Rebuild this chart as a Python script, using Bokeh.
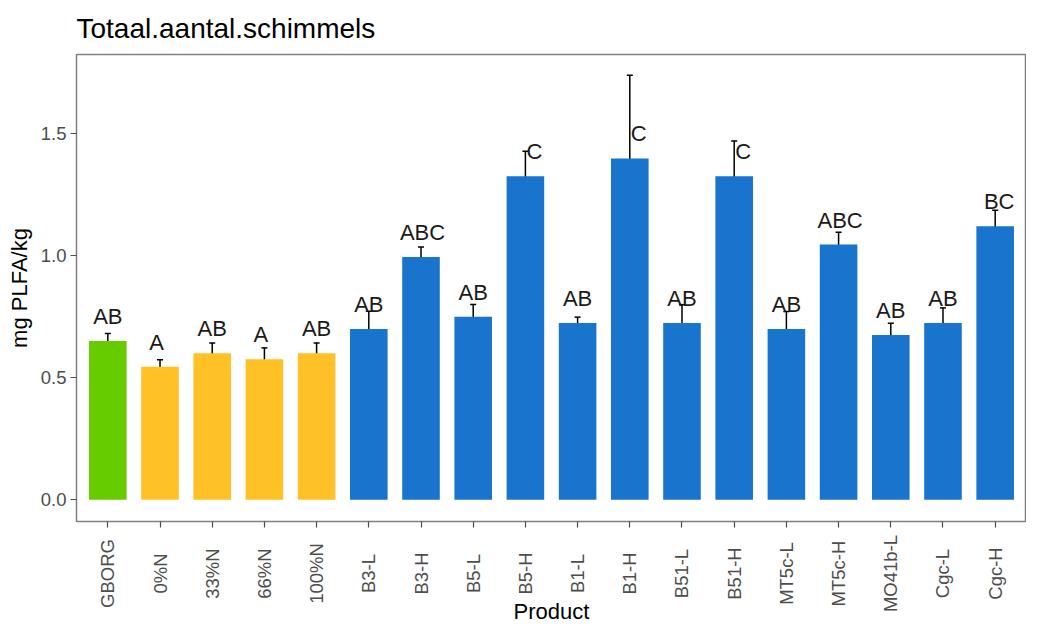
import math
from bokeh.plotting import figure
from bokeh.layouts import column
from bokeh.models import (ColumnDataSource, Range1d, FixedTicker, Whisker, TeeHead,
                          PrintfTickFormatter)
from bokeh.core.properties import value
from bokeh.embed import file_html
from bokeh.resources import INLINE

# ---- data ----
products = ["GBORG", "0%N", "33%N", "66%N", "100%N", "B3-L", "B3-H", "B5-L", "B5-H",
            "B1-L", "B1-H", "B51-L", "B51-H", "MT5c-L", "MT5c-H", "MO41b-L", "Cgc-L", "Cgc-H"]
means = [0.651, 0.546, 0.601, 0.576, 0.601, 0.700, 0.996, 0.751, 1.327,
         0.725, 1.400, 0.725, 1.327, 0.700, 1.047, 0.676, 0.725, 1.122]
se = [0.031, 0.028, 0.042, 0.047, 0.042, 0.073, 0.041, 0.050, 0.102,
      0.024, 0.341, 0.075, 0.144, 0.072, 0.050, 0.048, 0.062, 0.065]
letters = ["AB", "A", "AB", "A", "AB", "AB", "ABC", "AB", "C",
           "AB", "C", "AB", "C", "AB", "ABC", "AB", "AB", "BC"]
groups = ["control", "N", "N", "N", "N"] + ["bio"] * 13
y_ticks = [0.0, 0.5, 1.0, 1.5]
title_text = "Totaal.aantal.schimmels"
x_title = "Product"
y_title = "mg PLFA/kg"

# ---- styles ----
group_colors = {"control": "#66CC00", "N": "#FFC125", "bio": "#1874CD"}
letter_shift = {"A": -3.5, "AB": 0.0, "ABC": 1.5, "BC": 4.0, "C": 9.0}
label_gap = 0.1
Y_MIN, Y_MAX = -0.089, 1.826
FONT = "Liberation Sans"
TICK_COLOR = "#4D4D4D"
W = 1026
MAIN_H, STRIP_H = 530, 98
CAT_Y = 0.561        # centre line of rotated category labels inside the strip
XTITLE_Y = 0.17      # centre of the x-axis title inside the strip

xs = list(range(1, len(products) + 1))
src = ColumnDataSource(dict(
    x=xs,
    top=means,
    upper=[m + s for m, s in zip(means, se)],
    lower=[m - s for m, s in zip(means, se)],
    color=[group_colors[g] for g in groups],
    label=letters,
    label_y=[m + label_gap for m in means],
    dx=[letter_shift[l] for l in letters],
    name=products,
    name_y=[CAT_Y] * len(products),
))

x_range = Range1d(0.4, len(products) + 0.6)

p = figure(width=W, height=MAIN_H,
           x_range=x_range, y_range=Range1d(Y_MIN, Y_MAX),
           output_backend="svg", toolbar_location=None,
           min_border_left=76, min_border_right=0,
           min_border_top=54, min_border_bottom=MAIN_H - 521)

p.vbar(x="x", top="top", bottom=0, width=0.72, fill_color="color",
       line_color=None, source=src)

whisk = Whisker(source=src, base="x", upper="upper", lower="lower",
                line_color="black", line_width=1.5,
                upper_head=TeeHead(size=6, line_color="black", line_width=1.5),
                lower_head=TeeHead(size=6, line_color="black", line_width=1.5))
p.add_layout(whisk)

p.text(x="x", y="label_y", text="label", source=src, x_offset="dx",
       text_align="center", text_baseline="middle",
       text_font=value(FONT), text_font_size="22px", text_color="#1a1a1a")

# title
p.title.text = title_text
p.title.text_font = FONT
p.title.text_font_size = "28px"
p.title.text_font_style = "normal"
p.title.text_color = "black"
p.title.align = "left"
p.title.standoff = 21

# axes
p.xaxis.ticker = FixedTicker(ticks=xs)
p.xaxis.major_label_overrides = {x: "" for x in xs}
p.xaxis.major_label_text_font_size = "0px"
p.xaxis.major_label_standoff = 0
p.yaxis.ticker = FixedTicker(ticks=y_ticks)
p.yaxis.formatter = PrintfTickFormatter(format="%.1f")
p.yaxis.axis_label = y_title
for ax in (p.xaxis, p.yaxis):
    ax.axis_line_color = None
    ax.major_tick_line_color = TICK_COLOR
    ax.major_tick_line_width = 1.2
    ax.major_tick_out = 6
    ax.major_tick_in = 0
    ax.minor_tick_line_color = None
p.yaxis.major_label_text_font = FONT
p.yaxis.major_label_text_font_size = "18.5px"
p.yaxis.major_label_text_color = TICK_COLOR
p.yaxis.major_label_standoff = 4
p.yaxis.axis_label_text_font = FONT
p.yaxis.axis_label_text_font_size = "22px"
p.yaxis.axis_label_text_font_style = "normal"
p.yaxis.axis_label_text_color = "black"
p.yaxis.axis_label_standoff = 6

p.xgrid.grid_line_color = None
p.ygrid.grid_line_color = None
p.outline_line_color = "#7F7F7F"
p.outline_line_width = 1.5
p.background_fill_color = "white"
p.border_fill_color = "white"

# ---- strip below the panel: rotated category labels (centred) + x-axis title ----
q = figure(width=W, height=STRIP_H, x_range=x_range, y_range=Range1d(0, 1),
           output_backend="svg", toolbar_location=None,
           min_border_left=76, min_border_right=0, min_border_top=0, min_border_bottom=0)
q.xaxis.visible = False
q.yaxis.visible = False
q.xgrid.grid_line_color = None
q.ygrid.grid_line_color = None
q.outline_line_color = None
q.background_fill_color = "white"
q.border_fill_color = "white"

q.text(x="x", y="name_y", text="name", source=src, angle=math.pi / 2,
       text_align="center", text_baseline="middle",
       text_font=value(FONT), text_font_size="18.5px", text_color=TICK_COLOR)

mid_x = (x_range.start + x_range.end) / 2
q.text(x=[mid_x], y=[XTITLE_Y], text=[x_title], text_align="center",
       text_baseline="middle", text_font=value(FONT), text_font_size="22px",
       text_color="black")

layout = column(p, q, spacing=0)
open("out.html", "w").write(file_html(layout, INLINE))
